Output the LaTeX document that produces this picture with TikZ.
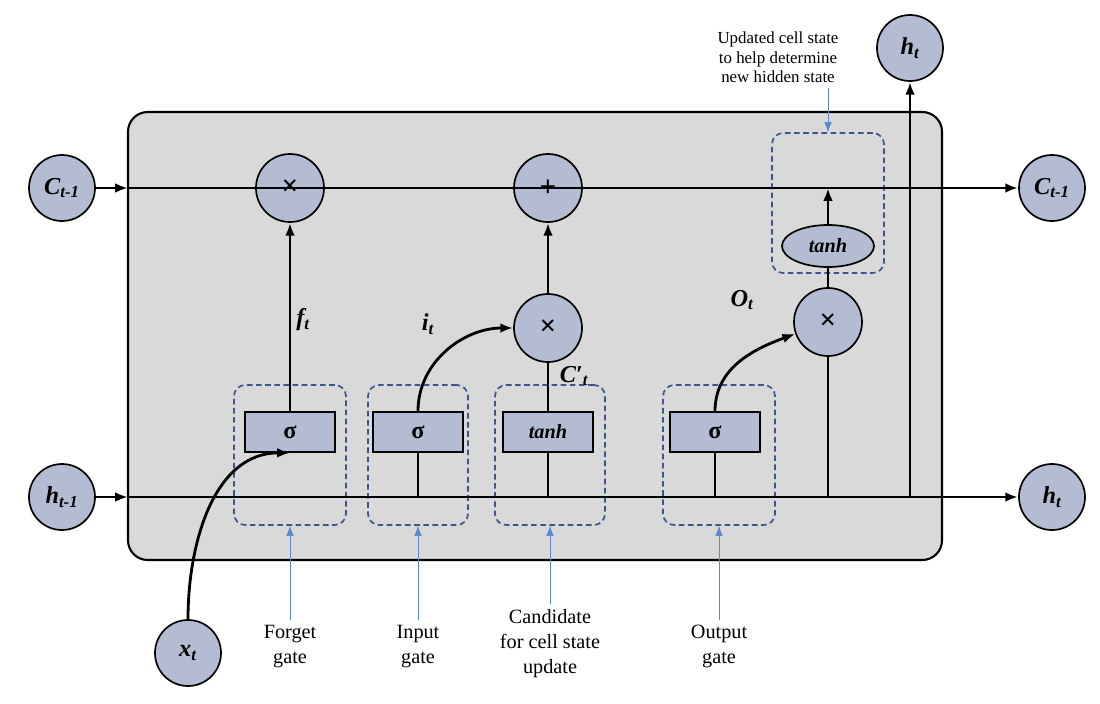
\documentclass[tikz,border=0pt]{standalone}
\usepackage{fontspec}
\setmainfont{Liberation Serif}
\usetikzlibrary{shapes.geometric,arrows.meta}
\definecolor{gatefill}{HTML}{B3BCD2}
\definecolor{cellfill}{HTML}{D9D9D9}
\definecolor{dashblue}{HTML}{3A5590}
\definecolor{tipblue}{HTML}{5B86D1}
\tikzset{%
  state/.style  = {circle, draw, line width=1.2pt, fill=gatefill, minimum size=1.65cm, inner sep=0pt,%
                   font=\LARGE\bfseries\itshape},%
  op/.style     = {circle, draw, line width=1.2pt, fill=gatefill, minimum size=1.7cm, inner sep=0pt,%
                   font=\huge\bfseries},%
  layer/.style  = {rectangle, draw, line width=1.2pt, fill=gatefill, minimum width=2.25cm,%
                   minimum height=1cm, font=\LARGE\bfseries},%
  gatebox/.style= {draw=dashblue, line width=1.2pt, dash pattern=on 4pt off 2.5pt, rounded corners=8pt},%
  flow/.style   = {line width=2pt, -{Latex[length=3.2mm]}},%
  plain/.style  = {line width=2pt},%
  note/.style   = {font=\Large, align=center},%
  pointer/.style= {tipblue, thin, -{Latex[length=2.5mm]}},%
  lbl/.style    = {font=\LARGE\bfseries\itshape}%
}
\begin{document}
\begin{tikzpicture}[x=0.025cm,y=-0.025cm]
  \useasboundingbox (0,0) rectangle (1100,704);
  \draw[line width=1.5pt, fill=cellfill, rounded corners=14pt] (128,112) rectangle (942,560);
  % gates
  \node[gatebox, minimum width=2.8cm, minimum height=3.5cm] (fg) at (290,455) {};
  \node[gatebox, minimum width=2.5cm, minimum height=3.5cm] (ig) at (418,455) {};
  \node[gatebox, minimum width=2.75cm, minimum height=3.5cm] (cg) at (550,455) {};
  \node[gatebox, minimum width=2.8cm, minimum height=3.5cm] (og) at (719,455) {};
  \node[gatebox, minimum width=2.8cm, minimum height=3.5cm] (ug) at (828,203) {};
  % states
  \node[state] (cin)  at (62,188)  {C\textsubscript{t-1}};
  \node[state] (cout) at (1052,188) {C\textsubscript{t-1}};
  \node[state] (hin)  at (62,497)  {h\textsubscript{t-1}};
  \node[state] (hout) at (1052,497) {h\textsubscript{t}};
  \node[state] (htop) at (910,48)  {h\textsubscript{t}};
  \node[state] (xin)  at (188,653) {x\textsubscript{t}};
  % operations
  \node[op] (mf) at (290,188) {×};
  \node[op] (add) at (548,188) {+};
  \node[op] (mi) at (548,328) {×};
  \node[op] (mo) at (828,322) {×};
  \node[ellipse, draw, line width=1.2pt, fill=gatefill, minimum width=2.3cm, minimum height=1.05cm,%
        font=\Large\bfseries\itshape] (th) at (828,246) {tanh};
  \node[layer] (sf) at (290,432) {σ};
  \node[layer] (si) at (418,432) {σ};
  \node[layer, font=\Large\bfseries\itshape] (tc) at (548,432) {tanh};
  \node[layer] (so) at (715,432) {σ};
  % junctions
  \coordinate (ji) at (418,497);
  \coordinate (jc) at (548,497);
  \coordinate (jo) at (715,497);
  \coordinate (jm) at (828,497);
  \coordinate (jh) at (910,497);
  \coordinate (jt) at (828,188);
  \coordinate (bc) at (128,188);
  \coordinate (bh) at (128,497);
  % main lines
  \draw[flow] (cin) -- (bc);
  \draw[flow] (bc) -- (cout);
  \draw[flow] (hin) -- (bh);
  \draw[flow] (bh) -- (hout);
  \draw[flow] (sf) -- (mf);
  \draw[flow] (mi) -- (add);
  \draw[plain] (ji) -- (si);
  \draw[plain] (jc) -- (tc);
  \draw[plain] (tc) -- (mi);
  \draw[plain] (jo) -- (so);
  \draw[plain] (jm) -- (mo);
  \draw[plain] (mo) -- (th);
  \draw[flow] (th) -- (jt);
  \draw[flow] (jh) -- (htop);
  \draw[flow] (xin) to[out=90, in=180] (sf.south);
  \draw[flow] (si.north) to[out=90, in=180] (mi);
  \draw[flow] (so.north) to[out=90, in=200] (mo);
  % labels
  \node[lbl] at (303,320) {f\textsubscript{t}};
  \node[lbl] at (428,324) {i\textsubscript{t}};
  \node[lbl] at (574,376) {C′\textsubscript{t}};
  \node[lbl] at (742,300) {O\textsubscript{t}};
  % notes
  \node[note, anchor=north] (nf) at (290,620) {Forget\\gate};
  \node[note, anchor=north] (ni) at (418,620) {Input\\gate};
  \node[note, anchor=north] (nc) at (550,604) {Candidate\\for cell state\\update};
  \node[note, anchor=north] (no) at (719,620) {Output\\gate};
  \node[note, anchor=south, font=\large] (nu) at (778,88) {Updated cell state\\to help determine\\new hidden state};
  \draw[pointer] (290,620) -- (fg.south);
  \draw[pointer] (418,620) -- (ig.south);
  \draw[pointer] (550,604) -- (cg.south);
  \draw[pointer] (719,620) -- (og.south);
  \draw[pointer] (nu.south -| ug.north) -- (ug.north);
\end{tikzpicture}
\end{document}
